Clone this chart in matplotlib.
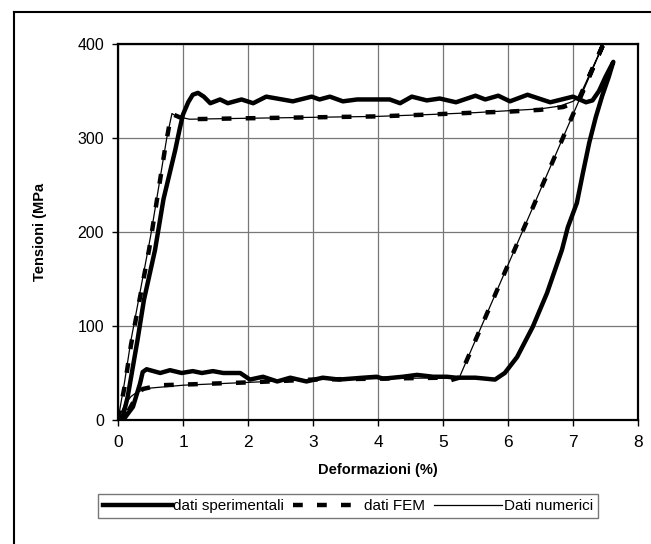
import matplotlib
matplotlib.use("Agg")
import matplotlib.pyplot as plt
from matplotlib.lines import Line2D

plt.rcParams['font.family'] = ['Liberation Sans', 'DejaVu Sans']

# Experimental data (strain %, stress MPa)
exp_x = [0, 0.08, 0.15, 0.3, 0.4, 0.57, 0.7, 0.88, 0.95, 1.0, 1.08, 1.15, 1.23, 1.32, 1.42, 1.57, 1.69,
         1.9, 2.08, 2.28, 2.69, 2.98, 3.1, 3.26, 3.46, 3.68, 4.18, 4.34, 4.52, 4.75, 4.95, 5.2, 5.5,
         5.65, 5.85, 6.03, 6.3, 6.65, 7.0, 7.2, 7.3, 7.4, 7.5, 7.62,
         7.55, 7.45, 7.35, 7.25, 7.15, 7.06, 6.92, 6.83, 6.6, 6.38, 6.14, 5.95, 5.8, 5.5, 5.2,
         5.06, 4.85, 4.6, 4.38, 4.08, 3.98, 3.77, 3.4, 3.15, 2.9, 2.65, 2.45, 2.23, 2.03, 1.88,
         1.62, 1.46, 1.29, 1.15, 0.98, 0.8, 0.65, 0.44, 0.38, 0.34, 0.23, 0.08, 0]
exp_y = [0, 5, 25, 85, 128, 181, 235, 287, 310, 325, 338, 346, 348, 344, 337, 341, 337,
         341, 337, 344, 339, 344, 341, 344, 339, 341, 341, 337, 344, 340, 342, 338, 345,
         341, 345, 339, 346, 338, 344, 338, 340, 350, 365, 381,
         365, 345, 322, 295, 262, 231, 205, 181, 135, 99, 67, 50, 43, 45, 45,
         46, 46, 48, 46, 44, 46, 45, 43, 45, 41, 45, 41, 46, 43, 50,
         50, 52, 50, 52, 50, 53, 50, 54, 51, 39, 14, 0, 0]

# FEM data
fem_x = [0, 0.1, 0.2, 0.48, 0.72, 0.8, 0.85, 0.95, 1.1, 2.0, 3.0, 4.0, 4.8, 5.5, 6.0, 6.5, 6.85, 7.0, 7.1,
         7.5, 5.25, 5.1, 5.0, 4.0, 3.0, 2.0, 1.15, 0.65, 0.38, 0.3, 0.14, 0]
fem_y = [0, 35, 80, 182, 287, 318, 325, 322, 320, 321, 322, 323, 325, 327, 328, 330, 333, 337, 343,
         405, 45, 42, 45, 44, 43, 40, 38, 37, 33, 27, 7, 0]

# Numerical data
num_x = [0, 0.1, 0.2, 0.5, 0.75, 0.83, 0.9, 1.1, 2.0, 3.0, 4.0, 4.8, 5.5, 6.0, 6.5, 6.8, 7.0, 7.1,
         7.5, 5.25, 4.0, 3.0, 2.0, 1.0, 0.5, 0.3, 0.2, 0.1, 0]
num_y = [0, 40, 85, 195, 300, 326, 323, 320, 321, 322, 323, 325, 327, 329, 331, 334, 339, 344,
         405, 45, 44, 43, 40, 37, 34, 30, 25, 16, 0]

x_ticks = [0, 1, 2, 3, 4, 5, 6, 7, 8]
y_ticks = [0, 100, 200, 300, 400]

fig = plt.figure(figsize=(6.51, 5.44), dpi=100)
ax = fig.add_axes([118/651, 1-420/544, (638-118)/651, (420-44)/544])

ax.plot(num_x, num_y, color='black', lw=0.9, label='Dati numerici', zorder=3)
ax.plot(fem_x, fem_y, color='black', lw=3.2, ls=(0, (2.2, 3.2)), label='dati FEM', zorder=4)
ax.plot(exp_x, exp_y, color='black', lw=3.2, label='dati sperimentali', zorder=5,
        solid_joinstyle='round')

ax.set_xlim(0, 8)
ax.set_ylim(0, 400)
ax.set_xticks(x_ticks)
ax.set_yticks(y_ticks)
ax.tick_params(axis='x', labelsize=12.5, length=4, width=1, pad=7)
ax.tick_params(axis='y', labelsize=11.5, length=4, width=1, pad=6)
ax.grid(True, color='#777777', lw=0.9)
ax.set_axisbelow(True)
for s in ax.spines.values():
    s.set_linewidth(1.6)
    s.set_color('black')

ax.set_xlabel('Deformazioni (%)', fontsize=10.5, fontweight='bold', labelpad=9)
ax.set_ylabel('Tensioni (MPa', fontsize=10.5, fontweight='bold', labelpad=22)

h, l = ax.get_legend_handles_labels()
order = [2, 1, 0]
leg = fig.legend([h[i] for i in order], [l[i] for i in order], loc='center',
                 bbox_to_anchor=(348/651, 1-506/544), ncol=3, frameon=True, fancybox=False,
                 fontsize=11, handlelength=4.5, handletextpad=0.1, columnspacing=0.6,
                 borderpad=0.35, edgecolor='#555555')
leg.get_frame().set_linewidth(1.0)

# outer frame (scan border)
fig.add_artist(Line2D([14/651, 1.0], [1-12/544, 1-12/544], transform=fig.transFigure, color='black', lw=1.5))
fig.add_artist(Line2D([14/651, 14/651], [1-12/544, 0.0], transform=fig.transFigure, color='black', lw=1.5))

fig.savefig('out.png', dpi=100)
